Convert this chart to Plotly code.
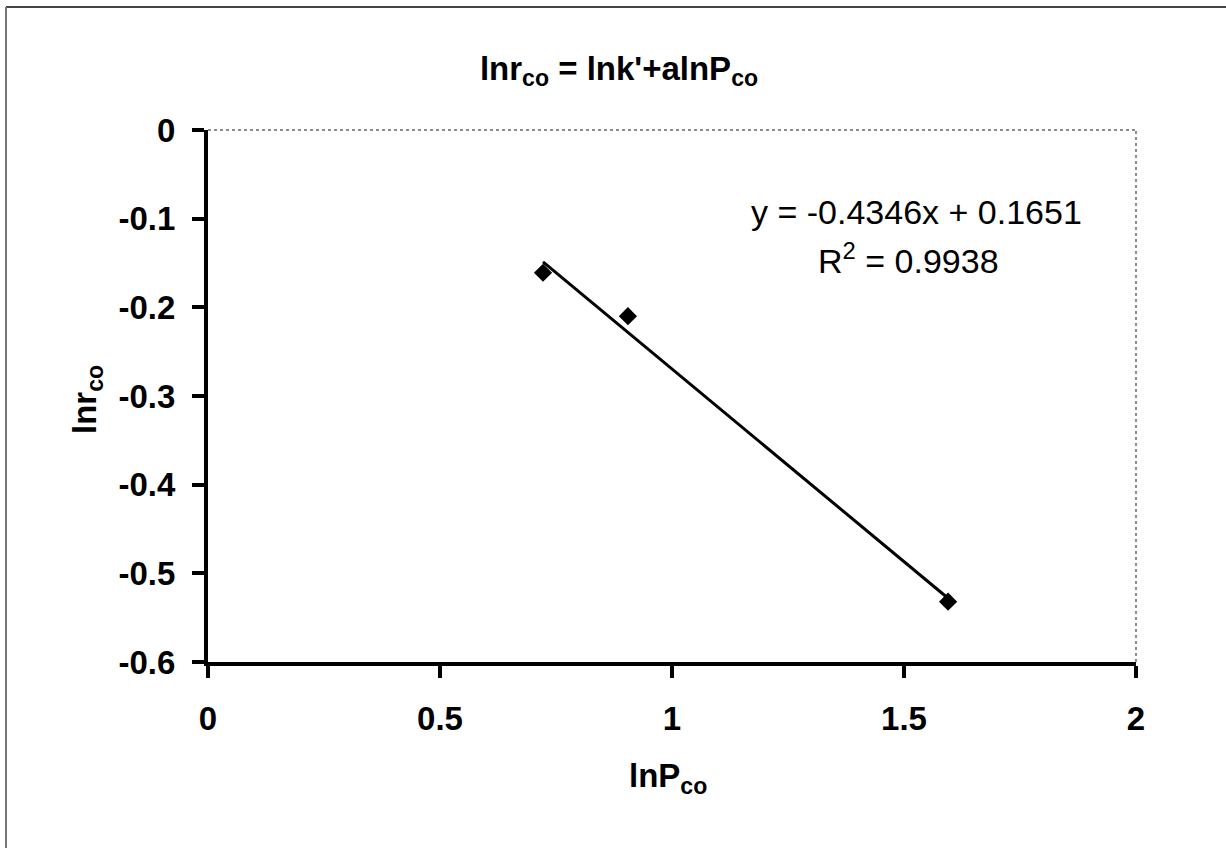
import numpy as np
import plotly.graph_objects as go

# Data
ln_P_co = [0.722, 0.905, 1.595]
ln_r_co = [-0.161, -0.210, -0.532]

# Trendline shown in the chart
slope = -0.4346
intercept = 0.1651
r_squared = 0.9938

x_tick_vals = [0, 0.5, 1, 1.5, 2]
x_tick_text = ["0", "0.5", "1", "1.5", "2"]
y_tick_vals = [0, -0.1, -0.2, -0.3, -0.4, -0.5, -0.6]
y_tick_text = ["0", "-0.1", "-0.2", "-0.3", "-0.4", "-0.5", "-0.6"]

FONT = "Liberation Sans, Arial, sans-serif"
FS = 33

x_line = np.array([min(ln_P_co), max(ln_P_co)])
y_line = slope * x_line + intercept

fig = go.Figure()
fig.add_trace(go.Scatter(x=x_line, y=y_line, mode="lines",
                         line=dict(color="black", width=3), showlegend=False, hoverinfo="skip"))
fig.add_trace(go.Scatter(x=ln_P_co, y=ln_r_co, mode="markers",
                         marker=dict(symbol="diamond", size=14, color="black"),
                         showlegend=False))

axis_common = dict(showgrid=False, zeroline=False, showline=True, linecolor="black", linewidth=4,
                   ticks="outside", ticklen=12, tickwidth=4, tickcolor="black",
                   tickfont=dict(family=FONT, size=FS, color="black", weight="bold"))

fig.update_xaxes(range=[0, 2], tickvals=x_tick_vals, ticktext=x_tick_text,
                 ticklabelstandoff=12, **axis_common)
fig.update_yaxes(range=[-0.6, 0], tickvals=y_tick_vals, ticktext=y_tick_text,
                 ticklabelstandoff=10, **axis_common)

L, R, T, B = 208, 90, 130, 186
W, H = 1226, 848
pw, ph = W - L - R, H - T - B

fig.update_layout(
    width=W, height=H,
    margin=dict(l=L, r=R, t=T, b=B),
    plot_bgcolor="white", paper_bgcolor="white",
    font=dict(family=FONT, color="black"),
    title=dict(text="<b>lnr<sub>co</sub> = lnk'+alnP<sub>co</sub></b>",
               x=619 / W, xanchor="center",
               y=1 - 68 / H, yanchor="middle", yref="container", xref="container",
               font=dict(family=FONT, size=FS, color="black")),
)

# plot area top/right dotted borders
fig.add_shape(type="line", xref="paper", yref="paper", x0=0, x1=1, y0=1, y1=1,
              line=dict(color="#666", width=1.5, dash="dot"))
fig.add_shape(type="line", xref="paper", yref="paper", x0=1, x1=1, y0=0, y1=1,
              line=dict(color="#666", width=1.5, dash="dot"))

# outer frame (top and left edges visible)
fx0 = (6 - L) / pw
fy_top = (H - B - 7) / ph
fy_bot = (H - B - 848) / ph
fx1 = (1226 - L) / pw
fig.add_shape(type="line", xref="paper", yref="paper", x0=fx0, x1=fx1, y0=fy_top, y1=fy_top,
              line=dict(color="#444", width=2))
fig.add_shape(type="line", xref="paper", yref="paper", x0=fx0, x1=fx0, y0=fy_bot, y1=fy_top,
              line=dict(color="#777", width=2))

# axis titles
fig.add_annotation(text="<b>lnP<sub>co</sub></b>", xref="paper", yref="paper",
                   x=(668 - L) / pw, y=(H - B - 778) / ph, showarrow=False,
                   xanchor="center", yanchor="middle",
                   font=dict(family=FONT, size=FS, color="black"))
fig.add_annotation(text="<b>lnr<sub>co</sub></b>", xref="paper", yref="paper",
                   x=(87 - L) / pw, y=(H - B - 400) / ph, showarrow=False, textangle=-90,
                   xanchor="center", yanchor="middle",
                   font=dict(family=FONT, size=FS, color="black"))

# trendline equation
fig.add_annotation(text=f"y = {slope:.4f}x + {intercept:.4f}", x=1.528, y=-0.0925,
                   showarrow=False, xanchor="center", yanchor="middle",
                   font=dict(family=FONT, size=34, color="black"))
fig.add_annotation(text=f"R<sup>2</sup> = {r_squared:.4f}", x=1.509, y=-0.145,
                   showarrow=False, xanchor="center", yanchor="middle",
                   font=dict(family=FONT, size=34, color="black"))

fig.write_html("out.html")
